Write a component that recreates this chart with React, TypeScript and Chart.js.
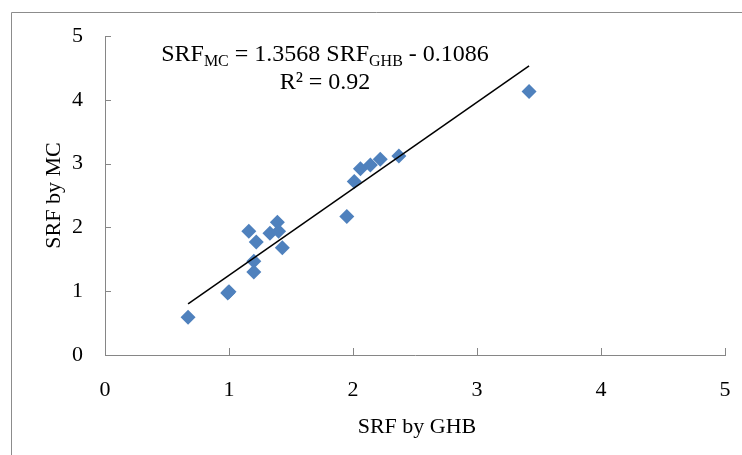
import React, { useEffect, useRef } from "react";
import { Chart, registerables } from "chart.js";

Chart.register(...registerables);

const ghbValues = [0.67, 0.99, 1.0, 1.16, 1.22, 1.2, 1.2, 1.33, 1.39, 1.4, 1.43, 1.95, 2.01, 2.06, 2.14, 2.22, 2.37, 3.42];
const mcValues = [0.59, 0.97, 0.99, 1.94, 1.77, 1.47, 1.3, 1.91, 2.08, 1.94, 1.68, 2.17, 2.72, 2.92, 2.98, 3.07, 3.12, 4.13];
const tickValues = [0, 1, 2, 3, 4, 5];
const slope = 1.3568;
const intercept = -0.1086;
const rSquared = "0.92";
const xTitle = "SRF by GHB";
const yTitle = "SRF by MC";

const FONT = "'Liberation Serif', 'Times New Roman', serif";
const AXIS_COLOR = "#868686";

export default function App() {
  const ref = useRef<HTMLCanvasElement | null>(null);

  useEffect(() => {
    document.body.style.margin = "0";
    const canvas = ref.current;
    if (!canvas) return;

    const points = ghbValues.map((x, i) => ({ x, y: mcValues[i] }));
    const xMin = Math.min(...ghbValues);
    const xMax = Math.max(...ghbValues);
    const trend = [
      { x: xMin, y: slope * xMin + intercept },
      { x: xMax, y: slope * xMax + intercept },
    ];

    const decor = {
      id: "decor",
      beforeDraw(chart: any) {
        const ctx = chart.ctx;
        ctx.save();
        ctx.fillStyle = "#ffffff";
        ctx.fillRect(0, 0, chart.width, chart.height);
        ctx.strokeStyle = "#8c8c8c";
        ctx.lineWidth = 1;
        ctx.beginPath();
        ctx.moveTo(11.5, chart.height);
        ctx.lineTo(11.5, 12.5);
        ctx.lineTo(chart.width, 12.5);
        ctx.stroke();
        ctx.restore();
      },
      afterDraw(chart: any) {
        const ctx = chart.ctx;
        const xs = chart.scales.x;
        const ys = chart.scales.y;
        const area = chart.chartArea;
        ctx.save();
        ctx.strokeStyle = AXIS_COLOR;
        ctx.lineWidth = 1;
        ctx.beginPath();
        tickValues.forEach((v) => {
          if (v === 0) return;
          const py = Math.round(ys.getPixelForValue(v)) + 0.5;
          ctx.moveTo(area.left, py);
          ctx.lineTo(area.left + 6, py);
          const px = Math.round(xs.getPixelForValue(v)) + 0.5;
          ctx.moveTo(px, area.bottom);
          ctx.lineTo(px, area.bottom - 7);
        });
        ctx.stroke();

        ctx.fillStyle = "#000000";
        ctx.font = `22px ${FONT}`;
        ctx.textAlign = "center";
        ctx.textBaseline = "alphabetic";
        ctx.fillText(xTitle, (area.left + area.right) / 2 + 2, 433);
        ctx.save();
        ctx.translate(60, (area.top + area.bottom) / 2);
        ctx.rotate(-Math.PI / 2);
        ctx.fillText(yTitle, 0, 0);
        ctx.restore();

        const main = `24px ${FONT}`;
        const sub = `16px ${FONT}`;
        const parts: [string, boolean][] = [
          ["SRF", false],
          ["MC", true],
          [" = 1.3568 SRF", false],
          ["GHB", true],
          [" - 0.1086", false],
        ];
        let total = 0;
        parts.forEach(([t, s]) => {
          ctx.font = s ? sub : main;
          total += ctx.measureText(t).width;
        });
        const cx = 325;
        let x = cx - total / 2;
        ctx.textAlign = "left";
        parts.forEach(([t, s]) => {
          ctx.font = s ? sub : main;
          ctx.fillText(t, x, s ? 66 : 61);
          x += ctx.measureText(t).width;
        });
        ctx.font = main;
        ctx.textAlign = "center";
        ctx.fillText(`R² = ${rSquared}`, cx, 89);
        ctx.restore();
      },
    };

    const chart = new Chart(canvas, {
      type: "scatter",
      data: {
        datasets: [
          {
            type: "line",
            label: "Trend",
            data: trend,
            borderColor: "#000000",
            borderWidth: 1.5,
            pointRadius: 0,
            fill: false,
            order: 0,
          } as any,
          {
            label: "SRF",
            data: points,
            pointStyle: "rectRot",
            pointRadius: 7.5,
            backgroundColor: "#4f81bd",
            borderColor: "#4f81bd",
            borderWidth: 0,
            order: 1,
          },
        ],
      },
      options: {
        animation: false,
        responsive: false,
        devicePixelRatio: 1,
        layout: { padding: { left: 0, top: 36, right: 17, bottom: 0 } },
        plugins: {
          legend: { display: false },
          tooltip: { enabled: false },
          title: { display: false },
        },
        scales: {
          x: {
            type: "linear",
            min: 0,
            max: 5,
            afterFit: (s: any) => {
              s.height = 100;
              s.paddingRight = 0;
              s.paddingLeft = 0;
            },
            afterBuildTicks: (s: any) => {
              s.ticks = tickValues.map((v) => ({ value: v }));
            },
            grid: { display: true, drawOnChartArea: false, drawTicks: false },
            border: { display: true, color: AXIS_COLOR, width: 1 },
            ticks: {
              padding: 22,
              color: "#000000",
              font: { family: FONT, size: 22 },
            },
          },
          y: {
            type: "linear",
            min: 0,
            max: 5,
            afterFit: (s: any) => {
              s.width = 105;
              s.paddingTop = 0;
              s.paddingBottom = 0;
            },
            afterBuildTicks: (s: any) => {
              s.ticks = tickValues.map((v) => ({ value: v }));
            },
            grid: { display: true, drawOnChartArea: false, drawTicks: false },
            border: { display: true, color: AXIS_COLOR, width: 1 },
            ticks: {
              padding: 22,
              color: "#000000",
              font: { family: FONT, size: 22 },
            },
          },
        },
      },
      plugins: [decor],
    });

    return () => chart.destroy();
  }, []);

  return (
    <div style={{ width: 742, height: 455 }}>
      <canvas ref={ref} width={742} height={455} style={{ display: "block" }} />
    </div>
  );
}
